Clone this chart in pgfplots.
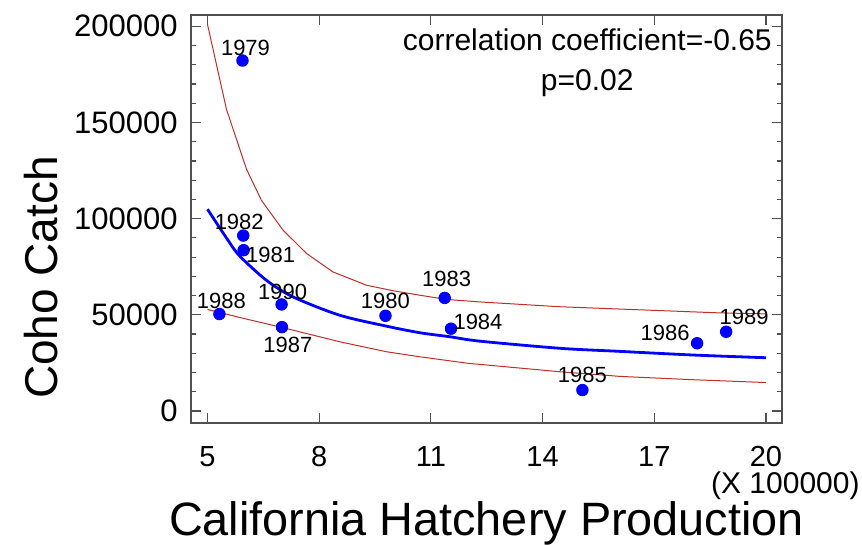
\documentclass[border=0pt]{standalone}
\usepackage{fontspec}
\setmainfont{Liberation Sans}
\usepackage{pgfplots}
\pgfplotsset{compat=1.18}
\usepackage{pgfplotstable}

\definecolor{fitblue}{RGB}{0,0,255}
\definecolor{bandred}{RGB}{195,45,40}
\definecolor{axgray}{RGB}{80,80,80}

\pgfplotstableread{
x y label dx dy
5.94 182200 1979 1.5 6.5
9.78 49500 1980 0 7.5
5.97 83600 1981 13.5 -2.5
5.96 91200 1982 -2 7
11.37 58800 1983 1 9.5
11.54 42800 1984 13.5 3.5
15.07 10900 1985 0 7.5
18.15 35200 1986 -16 5
7.00 43600 1987 3 -9
5.32 50400 1988 1 6.5
18.93 41200 1989 9 7.5
6.99 55400 1990 0.5 6.5
}\cohopts

\pgfplotstableread{
x y
5.00 104900
5.55 88800
5.87 80500
6.58 68000
7.30 59300
8.55 49800
9.81 44100
10.70 40700
11.51 38600
12.32 36300
14.47 32600
16.08 31000
18.05 29100
20.00 27700
}\cohofit

\pgfplotstableread{
x y
5.00 201000
5.51 156800
6.05 125600
6.45 109500
7.03 94000
7.66 81900
8.37 72300
9.27 65400
9.99 62500
10.70 60200
11.42 58000
12.32 56700
14.47 54200
16.08 53000
18.77 51000
20.00 50500
}\cohoupperband

\pgfplotstableread{
x y
5.00 52800
5.87 48600
6.99 43500
8.55 36000
9.81 30800
10.70 28200
12.00 24800
14.47 20400
16.08 18000
18.00 16300
20.00 14800
}\coholowerband

\begin{document}
\begin{tikzpicture}
\begin{axis}[
  name=ax, at={(0,0)}, anchor=south west,
  scale only axis, width=295.5pt, height=204pt,
  xmin=4.557, xmax=20.43, ymin=-6230, ymax=205870,
  xtick={5,8,11,14,17,20},
  ytick={0,50000,100000,150000,200000},
  minor y tick num=4,
  tick align=inside, major tick length=5pt, minor tick length=2.4pt,
  axis line style={axgray, line width=0.6pt},
  every tick/.style={axgray, line width=0.6pt},
  scaled y ticks=false, scaled x ticks=false,
  /pgf/number format/fixed,
  /pgf/number format/precision=0,
  /pgf/number format/assume math mode=true,
  /pgf/number format/1000 sep={},
  xticklabel style={font=\fontsize{14.5}{16}\selectfont, anchor=base, inner sep=0pt, yshift=-22pt},
  yticklabel style={font=\fontsize{15.5}{17}\selectfont, anchor=east, inner sep=0pt, xshift=-6.5pt},
]
\addplot[bandred, line width=0.5pt] table[x=x,y=y] {\cohoupperband};
\addplot[bandred, line width=0.5pt] table[x=x,y=y] {\coholowerband};
\addplot[fitblue, line width=1.4pt, smooth] table[x=x,y=y] {\cohofit};
\addplot[only marks, mark=*, mark size=2.9pt, mark options={fill=fitblue, draw=fitblue},
  point meta=explicit symbolic,
  visualization depends on={\thisrow{dx} \as \dx},
  visualization depends on={\thisrow{dy} \as \dy},
  nodes near coords,
  nodes near coords style={font=\fontsize{11}{12}\selectfont, text=black, anchor=center, inner sep=0pt, xshift=\dx pt, yshift=\dy pt},
] table[x=x, y=y, meta=label] {\cohopts};
\node[anchor=base, font=\fontsize{15}{18}\selectfont, inner sep=0pt] at (axis cs:15.2,187400) {correlation coefficient=-0.65};
\node[anchor=base, font=\fontsize{15}{18}\selectfont, inner sep=0pt] at (axis cs:15.2,166700) {p=0.02};
\end{axis}
\node[rotate=90, anchor=base, inner sep=0pt, font=\fontsize{23}{26}\selectfont] at (-66.5pt, 72.75pt) {Coho Catch};
\node[anchor=base, inner sep=0pt, font=\fontsize{23.4}{26}\selectfont] at (147.75pt, -56.5pt) {California Hatchery Production};
\node[anchor=base east, inner sep=0pt, font=\fontsize{15}{17}\selectfont] at (334.5pt, -35.5pt) {(X 100000)};
\pgfresetboundingbox
\path (-95.5pt,-61pt) rectangle (335.5pt,211.5pt);
\end{tikzpicture}
\end{document}
